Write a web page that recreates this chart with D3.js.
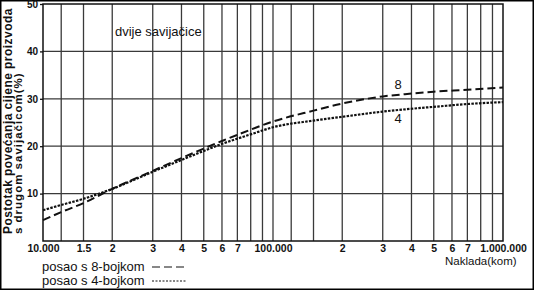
<!DOCTYPE html>
<html>
<head>
<meta charset="utf-8">
<script src="https://cdn.jsdelivr.net/npm/d3@7"></script>
<style>
  body { margin: 0; background: #fff; }
  svg { display: block; font-family: "Liberation Sans", Arial, sans-serif; }
</style>
</head>
<body>
<div id="chart"></div>
<script>
// naklada (kom) sample points
const naklada = [10000, 12000, 15000, 20000, 30000, 40000, 50000, 60000, 70000, 80000,
                 100000, 150000, 200000, 300000, 400000, 500000, 700000, 1000000];
// posao s 8-bojkom
const bojka8 = [4.4, 6.1, 8.0, 11.0, 14.8, 17.5, 19.5, 21.1, 22.4, 23.5,
                25.2, 27.5, 29.0, 30.5, 31.1, 31.5, 31.9, 32.4];
// posao s 4-bojkom
const bojka4 = [6.5, 7.6, 8.9, 11.0, 14.6, 17.1, 19.0, 20.5, 21.6, 22.5,
                24.0, 25.4, 26.2, 27.3, 27.9, 28.3, 28.9, 29.3];

const xGrid = [12000, 15000, 20000, 30000, 40000, 50000, 60000, 70000, 80000, 90000,
               100000, 120000, 150000, 200000, 300000, 400000, 500000, 600000, 700000, 800000, 900000];
const xTicks = [10000, 15000, 20000, 30000, 40000, 50000, 60000, 70000, 100000,
                200000, 300000, 400000, 500000, 600000, 700000, 1000000];
const xTickLabels = ['10.000', '1.5', '2', '3', '4', '5', '6', '7', '100.000',
                     '2', '3', '4', '5', '6', '7', '1.000.000'];
const yTicks = [10, 20, 30, 40, 50];

let dim = { width: 534, height: 290 };
let svg = d3.select('#chart').append('svg')
            .attr('width', dim.width)
            .attr('height', dim.height);

let x = d3.scaleLog().domain([10000, 1000000]).range([43, 503]);
let y = d3.scaleLinear().domain([0, 50]).range([241, 4]);

// outer frame
svg.append('rect')
   .attr('x', 0.75).attr('y', 0.75)
   .attr('width', dim.width - 1.5).attr('height', dim.height - 1.5)
   .attr('fill', 'none').attr('stroke', '#000').attr('stroke-width', 1.5);

// grid
let grid = svg.append('g').attr('stroke', '#3a3a3a').attr('stroke-width', 1.3);
grid.selectAll('line.v').data(xGrid).join('line')
    .attr('x1', d => x(d)).attr('x2', d => x(d))
    .attr('y1', y(50)).attr('y2', y(0));
grid.selectAll('line.h').data(yTicks.slice(0, 4)).join('line')
    .attr('x1', x(10000)).attr('x2', x(1000000))
    .attr('y1', d => y(d)).attr('y2', d => y(d));

// plot frame
svg.append('rect')
   .attr('x', x(10000)).attr('y', y(50))
   .attr('width', x(1000000) - x(10000)).attr('height', y(0) - y(50))
   .attr('fill', 'none').attr('stroke', '#111').attr('stroke-width', 1.5);

// x axis
let xAxis = d3.axisBottom(x).tickValues(xTicks).tickSize(0)
              .tickFormat((d, i) => xTickLabels[i]);
let gx = svg.append('g').attr('transform', `translate(0,${y(0)})`).call(xAxis);
gx.select('.domain').remove();
gx.selectAll('text').attr('dy', '0.75em').attr('y', 3)
  .attr('font-size', 10.5).attr('font-weight', 'bold').attr('fill', '#111')
  .attr('font-family', '"Liberation Sans", Arial, sans-serif');

// y axis
let yAxis = d3.axisLeft(y).tickValues(yTicks).tickSize(3).tickPadding(2);
let gy = svg.append('g').attr('transform', `translate(${x(10000)},0)`).call(yAxis);
gy.select('.domain').remove();
gy.selectAll('line').attr('stroke', '#111').attr('stroke-width', 1.3);
gy.selectAll('text').attr('font-size', 10).attr('font-weight', 'bold').attr('fill', '#111')
  .attr('font-family', '"Liberation Sans", Arial, sans-serif');

// curves
let line = d3.line().x((d, i) => x(naklada[i])).y(d => y(d)).curve(d3.curveMonotoneX);
svg.append('path').datum(bojka8).attr('d', line)
   .attr('fill', 'none').attr('stroke', '#111').attr('stroke-width', 2)
   .attr('stroke-dasharray', '8,4');
svg.append('path').datum(bojka4).attr('d', line)
   .attr('fill', 'none').attr('stroke', '#111').attr('stroke-width', 2.2)
   .attr('stroke-dasharray', '2.5,1.3');

// labels
svg.append('text').attr('x', 398).attr('y', 89).attr('text-anchor', 'middle')
   .attr('font-size', 13).attr('fill', '#111').text('8');
svg.append('text').attr('x', 398).attr('y', 123).attr('text-anchor', 'middle')
   .attr('font-size', 13).attr('fill', '#111').text('4');
svg.append('text').attr('x', 115).attr('y', 36)
   .attr('font-size', 13).attr('fill', '#111').text('dvije savijačice');
svg.append('text').attr('x', 445).attr('y', 265)
   .attr('font-size', 11.5).attr('fill', '#111').text('Naklada(kom)');

// y title
let yt = svg.append('g').attr('transform', 'translate(0,234) rotate(-90)');
yt.append('text').attr('x', 0).attr('y', 11.5)
  .attr('font-size', 12).attr('font-weight', 'bold').attr('fill', '#111')
  .attr('letter-spacing', 0.45)
  .text('Postotak povećanja cijene proizvoda');
yt.append('text').attr('x', 0).attr('y', 21.5)
  .attr('font-size', 11.5).attr('font-weight', 'bold').attr('fill', '#111')
  .attr('letter-spacing', 1)
  .text('s drugom savijačicom(%)');

// legend
let legend = [
    { name: 'posao s 8-bojkom', dash: '8,4', y: 271 },
    { name: 'posao s 4-bojkom', dash: '2,1.5', y: 285 }
];
let lg = svg.selectAll('g.leg').data(legend).join('g').attr('class', 'leg');
lg.append('text').attr('x', 42).attr('y', d => d.y)
  .attr('font-size', 13).attr('fill', '#111').text(d => d.name);
lg.append('line').attr('x1', 152).attr('x2', 187)
  .attr('y1', d => d.y - 4).attr('y2', d => d.y - 4)
  .attr('stroke', '#111').attr('stroke-width', 1.2)
  .attr('stroke-dasharray', d => d.dash);
</script>
</body>
</html>
